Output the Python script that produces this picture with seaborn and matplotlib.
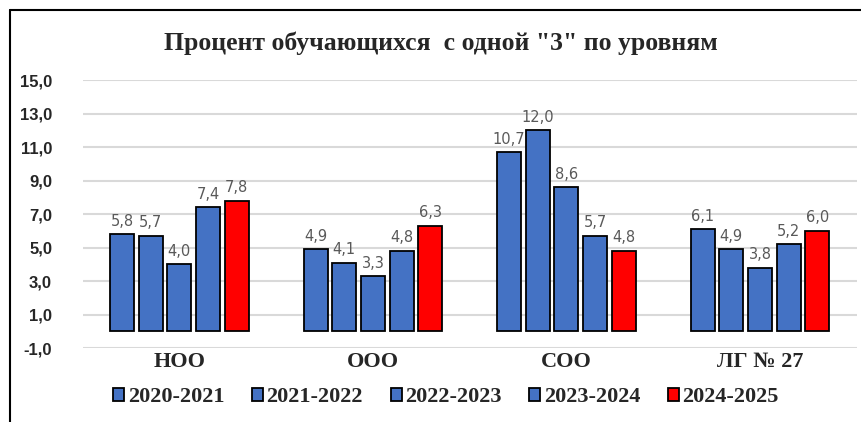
import pandas as pd
import numpy as np
import matplotlib
matplotlib.use("Agg")
import matplotlib.pyplot as plt
import seaborn as sns
from matplotlib.lines import Line2D

# data
levels = ["НОО", "ООО", "СОО", "ЛГ № 27"]
years = ["2020-2021", "2021-2022", "2022-2023", "2023-2024", "2024-2025"]
y2020 = [5.8, 4.9, 10.7, 6.1]
y2021 = [5.7, 4.1, 12.0, 4.9]
y2022 = [4.0, 3.3, 8.6, 3.8]
y2023 = [7.4, 4.8, 5.7, 5.2]
y2024 = [7.8, 6.3, 4.8, 6.0]
colors = ["#4472C4", "#4472C4", "#4472C4", "#4472C4", "#FF0000"]

rows = []
for yr, vals in zip(years, [y2020, y2021, y2022, y2023, y2024]):
    for lev, v in zip(levels, vals):
        rows.append({"level": lev, "year": yr, "value": v})
df = pd.DataFrame(rows)

sns.set_theme(style="white")
serif = "Liberation Serif"
numfont = "Liberation Sans"

fig = plt.figure(figsize=(8.61, 4.22), dpi=100)
ax = fig.add_axes([0.096, 0.175, 0.899, 0.635])

sns.barplot(data=df, x="level", y="value", hue="year", order=levels,
            hue_order=years, palette=colors, width=0.74, gap=0.16,
            edgecolor="black", linewidth=1.3, saturation=1, ax=ax)

for cont in ax.containers:
    ax.bar_label(cont, labels=[f"{v:.1f}".replace(".", ",") for v in cont.datavalues],
                 padding=4, color="#595959", fontsize=10.5, family="DejaVu Sans")

ax.set_ylim(-1, 15)
ticks = np.arange(-1, 16, 2)
ax.set_yticks(ticks)
ax.set_yticklabels([f"{t:.1f}".replace(".", ",") for t in ticks],
                   fontsize=12, fontweight="bold", family=numfont, color="#262626")
ax.set_xticks(range(len(levels)))
ax.set_xticklabels(levels, fontsize=16, fontweight="bold", family=serif)
ax.tick_params(axis="y", pad=22, length=0)
ax.tick_params(axis="x", pad=3, length=0)
ax.set_xlabel("")
ax.set_ylabel("")
ax.yaxis.grid(True, color="#d9d9d9", linewidth=1.5)
ax.set_axisbelow(True)
for s in ax.spines.values():
    s.set_visible(False)

handles, labs = ax.get_legend_handles_labels()
for h in handles:
    h.set_edgecolor("black")
    h.set_linewidth(1.3)
ax.legend(handles, labs, loc="center", bbox_to_anchor=(0.518, 0.059),
          bbox_transform=fig.transFigure, ncol=5, frameon=False,
          handlelength=0.5, handleheight=0.5, handletextpad=0.15,
          columnspacing=1.25, prop={"family": serif, "weight": "bold", "size": 16})

fig.text(0.512, 0.897, 'Процент обучающихся  с одной "3" по уровням',
         ha="center", va="center", fontsize=18.5, fontweight="bold", family=serif)

# outer frame (left and top edges only visible)
fig.add_artist(Line2D([10/861, 10/861], [0, 1 - 10/422], color="black", lw=1.5,
                      transform=fig.transFigure))
fig.add_artist(Line2D([10/861, 1], [1 - 10/422, 1 - 10/422], color="black", lw=1.5,
                      transform=fig.transFigure))

fig.savefig("out.png", dpi=100)
